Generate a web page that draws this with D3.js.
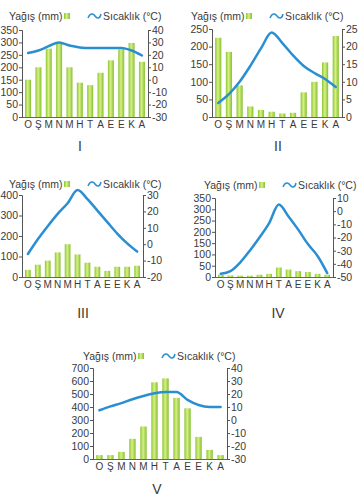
<!DOCTYPE html>
<html>
<head>
<meta charset="utf-8">
<script src="https://cdn.jsdelivr.net/npm/d3@7"></script>
<style>
  body { margin: 0; background: #fff; }
  svg text { font-family: "Liberation Sans", Arial, sans-serif; fill: #3a3a3a; }
  .axis path, .axis line { stroke: #555; }
</style>
</head>
<body>
<div id="chart"></div>
<script>
// months (Ocak ... Aralık)
var months = ["O", "Ş", "M", "N", "M", "H", "T", "A", "E", "E", "K", "A"];

// precipitation (mm)
var rainI   = [150, 200, 275, 300, 200, 138, 128, 178, 228, 272, 298, 222];
var rainII  = [225, 185, 90, 30, 20, 15, 10, 12, 70, 100, 155, 230];
var rainIII = [35, 60, 80, 120, 160, 110, 70, 50, 30, 50, 50, 55];
var rainIV  = [10, 7, 6, 6, 10, 14, 42, 33, 26, 22, 14, 10];
var rainV   = [30, 30, 55, 155, 250, 590, 620, 470, 390, 170, 70, 30];

// temperature (°C)
var tempI   = [21.5, 23.5, 27, 30, 27.5, 26, 25.5, 25.5, 25.5, 25.5, 23.5, 19.5];
var tempII  = [4, 6.5, 10, 14.5, 19.5, 24, 21, 17.5, 14.5, 12.5, 10.8, 8.5];
var tempIII = [-6, 3, 11, 18.5, 25, 33, 27.5, 20.5, 13.5, 6.5, 0.5, -4.5];
var tempIV  = [-47.5, -45.5, -39, -30, -20, -9, 5, -4, -14, -25, -34, -47];
var tempV   = [7.5, 10.5, 13, 16, 18.5, 20.5, 21.5, 21.5, 15.5, 11.5, 10, 10];

// axis ticks
var leftTicksI = d3.range(0, 351, 50),   rightTicksI = d3.range(-30, 41, 10);
var leftTicksII = d3.range(0, 251, 50),  rightTicksII = d3.range(0, 26, 5);
var leftTicksIII = d3.range(0, 401, 100), rightTicksIII = d3.range(-20, 31, 10);
var leftTicksIV = d3.range(0, 351, 50),  rightTicksIV = d3.range(-50, 11, 10);
var leftTicksV = d3.range(0, 701, 100),  rightTicksV = d3.range(-30, 41, 10);

var labels = ["I", "II", "III", "IV", "V"];

var svg = d3.select("#chart").append("svg")
  .attr("width", 362)
  .attr("height", 504);

// bar gradient
var grad = svg.append("defs").append("linearGradient")
  .attr("id", "barGrad")
  .attr("x1", "0%").attr("x2", "100%").attr("y1", "0%").attr("y2", "0%");
grad.append("stop").attr("offset", "0%").attr("stop-color", "#8cc635");
grad.append("stop").attr("offset", "45%").attr("stop-color", "#d8f085");
grad.append("stop").attr("offset", "100%").attr("stop-color", "#84c030");

var charts = [
  {rain: rainI, temp: tempI, lt: leftTicksI, rt: rightTicksI, x0: 22, x1: 148, y0: 30, y1: 117, leg: [9, 16], lab: [80, 151]},
  {rain: rainII, temp: tempII, lt: leftTicksII, rt: rightTicksII, x0: 212, x1: 342, y0: 29, y1: 117, leg: [191, 16], lab: [278, 151]},
  {rain: rainIII, temp: tempIII, lt: leftTicksIII, rt: rightTicksIII, x0: 22, x1: 143, y0: 195, y1: 277, leg: [9, 184], lab: [83, 318]},
  {rain: rainIV, temp: tempIV, lt: leftTicksIV, rt: rightTicksIV, x0: 215, x1: 333, y0: 198, y1: 277, leg: [204, 185], lab: [278, 318]},
  {rain: rainV, temp: tempV, lt: leftTicksV, rt: rightTicksV, x0: 93, x1: 227, y0: 368, y1: 459, leg: [83, 356], lab: [157, 494]}
];

// plain hyphen for negatives, like the printed chart
var fmt = function(d){ return String(d); };

charts.forEach(function(c, i){
  var g = svg.append("g");

  var x = d3.scaleBand()
    .domain(d3.range(12))
    .range([c.x0 + 1, c.x1 - 1])
    .paddingInner(0.42)
    .paddingOuter(0.2);

  var yL = d3.scaleLinear()
    .domain(d3.extent(c.lt))
    .range([c.y1, c.y0]);

  var yR = d3.scaleLinear()
    .domain(d3.extent(c.rt))
    .range([c.y1, c.y0]);

  // bars
  g.append("g").selectAll("rect")
    .data(c.rain)
    .enter()
    .append("rect")
    .attr("x", function(d, j){ return x(j); })
    .attr("y", function(d){ return yL(d); })
    .attr("width", x.bandwidth())
    .attr("height", function(d){ return c.y1 - yL(d); })
    .attr("fill", "url(#barGrad)");

  // baseline
  g.append("line")
    .attr("x1", c.x0).attr("x2", c.x1)
    .attr("y1", c.y1 + 0.5).attr("y2", c.y1 + 0.5)
    .attr("stroke", "#666");

  // left axis
  var axL = g.append("g")
    .attr("class", "axis")
    .attr("transform", "translate(" + c.x0 + ",0)")
    .call(d3.axisLeft(yL).tickValues(c.lt).tickFormat(fmt).tickSize(3).tickSizeOuter(3).tickPadding(1));
  axL.selectAll("text").style("font-size", "10.5px");

  // right axis
  var axR = g.append("g")
    .attr("class", "axis")
    .attr("transform", "translate(" + c.x1 + ",0)")
    .call(d3.axisRight(yR).tickValues(c.rt).tickFormat(fmt).tickSize(3).tickSizeOuter(3).tickPadding(1));
  axR.selectAll("text").style("font-size", "10.5px");

  // month labels
  g.append("g").selectAll("text")
    .data(months)
    .enter()
    .append("text")
    .attr("x", function(d, j){ return x(j) + x.bandwidth() / 2; })
    .attr("y", c.y1 + 11)
    .attr("text-anchor", "middle")
    .style("font-size", "10px")
    .text(function(d){ return d; });

  // temperature line
  var line = d3.line()
    .x(function(d, j){ return x(j) + x.bandwidth() / 2; })
    .y(function(d){ return yR(d); })
    .curve(d3.curveMonotoneX);

  g.append("path")
    .datum(c.temp)
    .attr("fill", "none")
    .attr("stroke", "#2a8fd2")
    .attr("stroke-width", 2.5)
    .attr("stroke-linejoin", "round")
    .attr("stroke-linecap", "round")
    .attr("d", line);

  // legend
  var lg = g.append("g").attr("transform", "translate(" + c.leg[0] + "," + c.leg[1] + ")");
  lg.append("text")
    .attr("x", 0).attr("y", 4)
    .style("font-size", "10.5px")
    .text("Yağış (mm)");
  lg.append("rect")
    .attr("x", 55).attr("y", -3)
    .attr("width", 6).attr("height", 6)
    .attr("fill", "url(#barGrad)");
  lg.append("path")
    .attr("d", "M79,2 C81,-3 84,-3 86,0 C88,3 91,3 92,-2")
    .attr("fill", "none")
    .attr("stroke", "#2a8fd2")
    .attr("stroke-width", 1.5);
  lg.append("text")
    .attr("x", 94).attr("y", 4)
    .style("font-size", "10.5px")
    .text("Sıcaklık (°C)");

  // chart number
  g.append("text")
    .attr("x", c.lab[0]).attr("y", c.lab[1])
    .attr("text-anchor", "middle")
    .style("font-size", "14px")
    .text(labels[i]);
});
</script>
</body>
</html>
